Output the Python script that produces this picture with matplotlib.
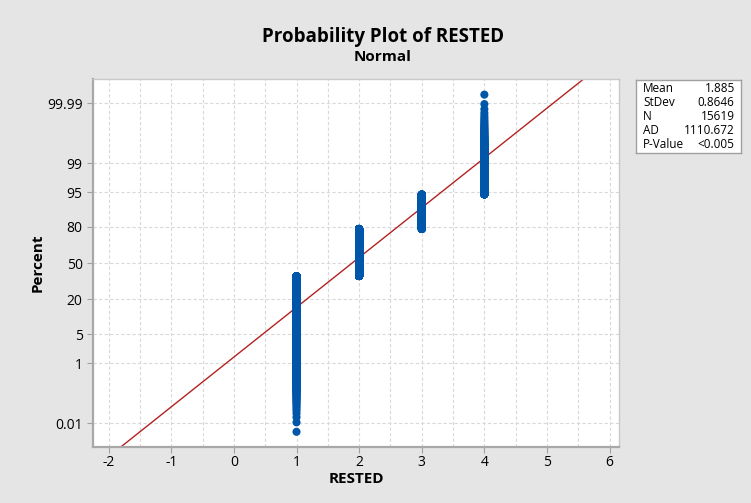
import numpy as np
import matplotlib.pyplot as plt
from statistics import NormalDist

# RESTED values and how many observations at each
rested_values = [1, 2, 3, 4]
rested_counts = [5977, 6319, 2463, 860]

ad_stat = "1110.672"
p_value = "<0.005"

pct_ticks = [0.01, 1, 5, 20, 50, 80, 95, 99, 99.99]
x_ticks = [-2, -1, 0, 1, 2, 3, 4, 5, 6]

nd = NormalDist()

data = np.repeat(rested_values, rested_counts)
n = len(data)
mean = data.mean()
sd = data.std(ddof=1)

# median ranks (Benard) -> normal scores
ranks = np.arange(1, n + 1)
p = (ranks - 0.3) / (n + 0.4)
z = np.array([nd.inv_cdf(v) for v in p])

plt.rcParams['font.family'] = ['Open Sans', 'DejaVu Sans']

bg = '#e5e5e5'
fig = plt.figure(figsize=(7.51, 5.03), dpi=100, facecolor=bg)
ax = fig.add_axes([93 / 751, 1 - 447 / 503, (619 - 93) / 751, (447 - 79) / 503])
ax.set_facecolor('white')

ylo, yhi = -4.27, 4.28
xlo, xhi = -2.25, 6.15

# grid
for gx in np.arange(-2, 6.01, 0.5):
    ax.axvline(gx, color='#d9d9d9', lw=0.8, ls=(0, (3, 2)), zorder=0)
for t in pct_ticks:
    ax.axhline(nd.inv_cdf(t / 100), color='#d9d9d9', lw=0.8, ls=(0, (3, 2)), zorder=0)

# fitted line
zz = np.array([ylo, yhi])
ax.plot(mean + sd * zz, zz, color='#b22222', lw=1.0, zorder=2)

ax.scatter(data, z, s=34, color='#0056a8', edgecolors='none', zorder=3)

ax.set_xlim(xlo, xhi)
ax.set_ylim(ylo, yhi)
ax.set_xticks(x_ticks)
ax.set_xticklabels([str(t) for t in x_ticks])
ax.set_yticks([nd.inv_cdf(t / 100) for t in pct_ticks])
ax.set_yticklabels([f"{t:g}" for t in pct_ticks])
ax.tick_params(labelsize=10, color='#a0a0a0', length=4, width=0.8)
ax.tick_params(axis='x', pad=2)

for s in ['left', 'bottom']:
    ax.spines[s].set_color('#a8a8a8')
    ax.spines[s].set_linewidth(1.6)
for s in ['top', 'right']:
    ax.spines[s].set_color('#c8c8c8')
    ax.spines[s].set_linewidth(1.0)

ax.set_xlabel('RESTED', fontsize=11, fontweight='bold', labelpad=1)
ax.set_ylabel('Percent', fontsize=11, fontweight='bold', labelpad=2)

fig.text(383 / 751, 1 - 37 / 503, 'Probability Plot of RESTED', ha='center', va='center',
         fontsize=13.5, fontweight='bold')
fig.text(383 / 751, 1 - 57 / 503, 'Normal', ha='center', va='center',
         fontsize=11, fontweight='bold')

# stats box
box = fig.add_axes([636 / 751, 1 - 153 / 503, (741 - 636) / 751, (153 - 80) / 503])
box.set_xticks([])
box.set_yticks([])
for s in box.spines.values():
    s.set_color('#a0a0a0')
    s.set_linewidth(1.0)
labels = ['Mean', 'StDev', 'N', 'AD', 'P-Value']
values = [f"{mean:.3f}", f"{sd:.4f}", str(n), ad_stat, p_value]
for i, (lab, val) in enumerate(zip(labels, values)):
    yy = 1 - (9 + 13.8 * i) / 73
    box.text(0.07, yy, lab, ha='left', va='center', fontsize=8.5, transform=box.transAxes)
    box.text(0.94, yy, val, ha='right', va='center', fontsize=8.5, transform=box.transAxes)

fig.savefig('out.png', dpi=100, facecolor=bg)
